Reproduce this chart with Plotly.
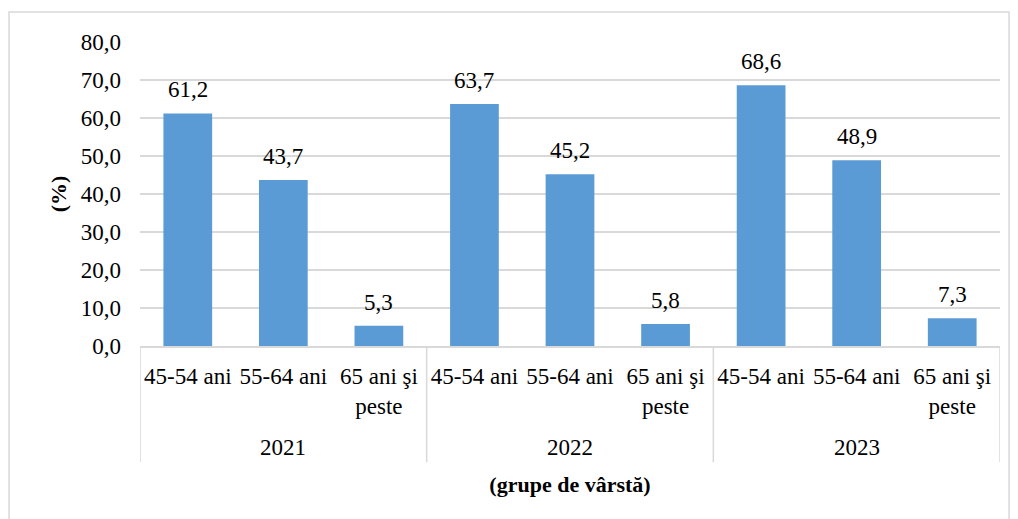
import plotly.graph_objects as go

years = ["2021", "2022", "2023"]
age_groups = ["45-54 ani", "55-64 ani", "65 ani şi<br>peste"]
values = [61.2, 43.7, 5.3, 63.7, 45.2, 5.8, 68.6, 48.9, 7.3]
y_ticks = [0, 10, 20, 30, 40, 50, 60, 70, 80]

FONT = "Liberation Serif, Times New Roman, serif"
GRID = "#d9d9d9"
BAR = "#5b9bd5"

n_groups = len(age_groups)
positions = list(range(len(values)))
tick_text = age_groups * len(years)
labels = [f"{v:.1f}".replace(".", ",") for v in values]

fig = go.Figure()
fig.add_trace(go.Bar(
    x=positions,
    y=values,
    width=0.51,
    marker=dict(color=BAR, line=dict(width=0)),
    hoverinfo="skip",
))

annotations = []
# value labels above each bar
for x, v, t in zip(positions, values, labels):
    annotations.append(dict(
        x=x, y=v, xref="x", yref="y", text=t, showarrow=False,
        yanchor="bottom", yshift=9,
        font=dict(family=FONT, size=23, color="#000000"),
    ))
# year labels under each group of age categories
for i, yr in enumerate(years):
    annotations.append(dict(
        x=i * n_groups + (n_groups - 1) / 2, y=0, xref="x", yref="paper",
        text=yr, showarrow=False, yanchor="middle", yshift=-101,
        font=dict(family=FONT, size=23, color="#000000"),
    ))

shapes = [dict(
    type="rect", xref="paper", yref="paper",
    x0=-0.1523, x1=1.0105, y0=-0.62, y1=1.0987,
    line=dict(color=GRID, width=1.5),
    fillcolor="rgba(0,0,0,0)", layer="below",
)]
# group dividers below the axis
for i in range(len(years) + 1):
    xd = i * n_groups - 0.5
    shapes.append(dict(
        type="line", xref="x", yref="paper",
        x0=xd, x1=xd, y0=0, y1=-0.382,
        line=dict(color=GRID, width=1.5),
    ))

fig.update_layout(
    width=1018,
    height=519,
    margin=dict(l=140, r=18, t=42, b=173),
    paper_bgcolor="#ffffff",
    plot_bgcolor="#ffffff",
    separators=", ",
    showlegend=False,
    font=dict(family=FONT, size=23, color="#000000"),
    shapes=shapes,
    annotations=annotations,
)

fig.update_yaxes(
    range=[0, 80],
    tickvals=y_ticks,
    tickformat=".1f",
    showgrid=True,
    gridcolor=GRID,
    gridwidth=1.5,
    zeroline=False,
    showline=False,
    ticks="",
    ticklabelstandoff=18,
    tickfont=dict(family=FONT, size=23),
    title=dict(text="<b>(%)</b>", font=dict(family=FONT, size=22), standoff=8),
)

fig.update_xaxes(
    range=[-0.5, len(values) - 0.5],
    tickvals=positions,
    ticktext=tick_text,
    showgrid=False,
    zeroline=False,
    showline=True,
    linecolor=GRID,
    linewidth=1.5,
    ticks="",
    ticklabelstandoff=9,
    tickfont=dict(family=FONT, size=23),
    title=dict(text="<b>(grupe de vârstă)</b>", font=dict(family=FONT, size=22), standoff=58),
)

fig.write_html("out.html")
